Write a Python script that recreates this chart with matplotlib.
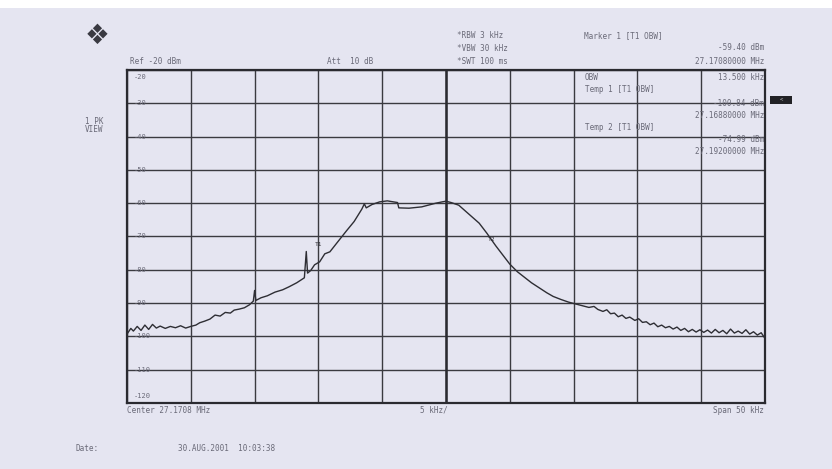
import matplotlib
matplotlib.use('Agg')
import matplotlib.pyplot as plt
from matplotlib.patches import Rectangle

# spectrum trace: offset from center (kHz) and level (dBm)
freq_khz = [-25.0, -24.7, -24.5, -24.2, -23.9, -23.6, -23.3, -23.0, -22.7, -22.4,
            -22.0, -21.6, -21.2, -20.8, -20.4, -20.0, -19.6, -19.3, -18.9, -18.5,
            -18.1, -17.7, -17.3, -16.9, -16.6, -16.2, -15.8, -15.4, -15.1, -15.0,
            -14.9, -14.5, -14.0, -13.4, -12.8, -12.3, -11.7, -11.1, -10.95, -10.85,
            -10.6, -10.3, -9.9, -9.5, -9.1, -8.4, -7.8, -7.2, -6.6, -6.4,
            -6.25, -5.8, -5.2, -4.6, -3.8, -3.7, -2.9, -1.9, -0.8, -0.3,
            0.0, 0.4, 1.0, 1.8, 2.6, 3.2, 3.9, 4.5, 5.0, 5.6,
            6.1, 6.7, 7.3, 7.9, 8.4, 9.0, 9.6, 10.2, 10.7, 11.2,
            11.6, 11.9, 12.3, 12.6, 12.9, 13.2, 13.5, 13.8, 14.1, 14.4,
            14.8, 15.1, 15.4, 15.7, 16.0, 16.3, 16.6, 16.9, 17.2, 17.5,
            17.8, 18.1, 18.4, 18.7, 19.0, 19.3, 19.6, 19.9, 20.2, 20.5,
            20.8, 21.1, 21.4, 21.7, 22.0, 22.3, 22.6, 22.9, 23.2, 23.5,
            23.8, 24.1, 24.4, 24.7, 25.0]
level_dbm = [-99.3, -97.6, -98.4, -97.0, -98.2, -96.6, -97.9, -96.4, -97.5, -96.9,
             -97.6, -97.0, -97.4, -96.8, -97.5, -97.0, -96.6, -95.9, -95.4, -94.8,
             -93.6, -93.9, -92.8, -93.0, -92.1, -91.8, -91.4, -90.5, -89.4, -86.2,
             -89.2, -88.4, -87.8, -86.7, -86.0, -85.1, -83.9, -82.4, -74.5, -81.0,
             -80.2, -78.5, -77.6, -75.2, -74.6, -71.2, -68.3, -65.5, -61.8, -60.2,
             -61.4, -60.4, -59.6, -59.3, -59.8, -61.4, -61.5, -61.1, -60.0, -59.6,
             -59.4, -59.8, -60.6, -63.3, -66.0, -69.0, -72.8, -75.8, -78.3, -80.6,
             -82.1, -83.9, -85.4, -86.9, -88.0, -88.9, -89.7, -90.3, -90.8, -91.3,
             -91.0, -91.9, -92.5, -92.0, -93.2, -93.0, -94.1, -93.6, -94.6, -94.2,
             -95.2, -94.7, -95.8, -95.6, -96.5, -96.0, -97.1, -96.6, -97.4, -97.0,
             -97.8, -97.2, -98.2, -97.6, -98.6, -97.9, -98.7, -98.0, -98.8, -98.1,
             -99.0, -97.9, -98.9, -98.2, -99.2, -97.8, -99.0, -98.4, -99.1, -98.0,
             -99.3, -98.6, -99.6, -98.9, -100.6]

y_ticks = [-20, -30, -40, -50, -60, -70, -80, -90, -100, -110, -120]
x_ticks = [-25, -20, -15, -10, -5, 0, 5, 10, 15, 20, 25]

# OBW temp markers
temp_markers = [(-9.5, -75.2, 'T1'), (4.1, -73.6, 'T2')]

header_left = ['*RBW 3 kHz', '*VBW 30 kHz', '*SWT 100 ms']
marker_info = ['Marker 1 [T1 OBW]', '-59.40 dBm', '27.17080000 MHz']

paper = '#e5e5f1'
ink = '#2e2e34'
txt = '#6a6a78'
mono = 'DejaVu Sans Mono'

fig = plt.figure(figsize=(8.32, 4.69), dpi=100, facecolor=paper)
fig.patches.append(Rectangle((0, 1 - 8 / 469), 1, 8 / 469, transform=fig.transFigure,
                             facecolor='white', edgecolor='none', zorder=0))

ax = fig.add_axes([127 / 832, 1 - 403 / 469, 638 / 832, 333 / 469])
ax.set_facecolor(paper)
ax.set_xlim(-25, 25)
ax.set_ylim(-120, -20)
ax.set_xticks(x_ticks)
ax.set_yticks(y_ticks)
ax.tick_params(length=0, labelleft=False, labelbottom=False)
ax.grid(True, color='#3a3a40', linewidth=1.0)
ax.axvline(0, color='#2a2a30', linewidth=1.8)
for s in ax.spines.values():
    s.set_color('#2a2a30')
    s.set_linewidth(1.6)

ax.plot(freq_khz, level_dbm, color=ink, linewidth=1.0)

for m in temp_markers:
    ax.text(m[0] - 0.2, m[1] + 2.0, m[2], fontsize=4.5, color=ink, ha='right',
            va='bottom', family=mono)

for v in y_ticks:
    off = 0
    if v == -20:
        off = -2.0
    if v == -120:
        off = 2.0
    ax.text(-24.5, v + off, str(v), fontsize=5, color=txt, ha='left', va='center',
            family=mono)

# marker table inside the grid
def ptxt(x, y, s, ha='left'):
    fig.text(x / 832, 1 - y / 469, s, fontsize=5.5, color=txt, ha=ha, va='center',
             family=mono)

ptxt(585, 77, 'OBW')
ptxt(764, 77, '13.500 kHz', 'right')
ptxt(585, 90, 'Temp 1 [T1 OBW]')
ptxt(764, 103, '-100.84 dBm', 'right')
ptxt(764, 115, '27.16880000 MHz', 'right')
ptxt(585, 127, 'Temp 2 [T1 OBW]')
ptxt(764, 139, '-74.99 dBm', 'right')
ptxt(764, 151, '27.19200000 MHz', 'right')

# header
for i, s in enumerate(header_left):
    ptxt(457, 36 + 12.5 * i, s)
ptxt(584, 36, marker_info[0])
ptxt(764, 48, marker_info[1], 'right')
ptxt(764, 61, marker_info[2], 'right')
ptxt(130, 61, 'Ref -20 dBm')
ptxt(327, 61, 'Att  10 dB')
ptxt(85, 121, '1 PK')
ptxt(85, 129, 'VIEW')

# footer
ptxt(127, 410, 'Center 27.1708 MHz')
ptxt(420, 410, '5 kHz/')
ptxt(764, 410, 'Span 50 kHz', 'right')
ptxt(75, 448, 'Date:')
ptxt(178, 448, '30.AUG.2001  10:03:38')

# logo and side tag
fig.text(97 / 832, 1 - 36 / 469, '\u2756', fontsize=20, color='#3a3a42',
         ha='center', va='center', family='DejaVu Sans')
fig.patches.append(Rectangle((770 / 832, 1 - 104 / 469), 22 / 832, 8 / 469,
                             transform=fig.transFigure, facecolor='#222226',
                             edgecolor='none'))
fig.text(781 / 832, 1 - 100 / 469, '<', fontsize=4, color='#cccccc', ha='center',
         va='center', family=mono)

fig.savefig('out.png', dpi=100, facecolor=paper)
